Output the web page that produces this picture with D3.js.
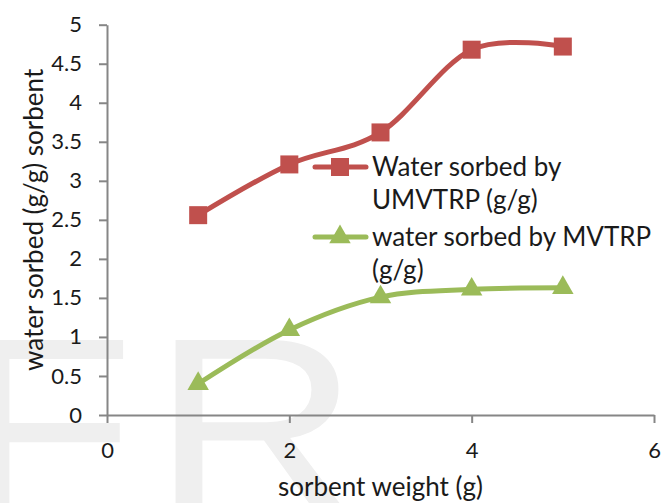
<!DOCTYPE html>
<html>
<head>
<meta charset="utf-8">
<script src="https://cdn.jsdelivr.net/npm/d3@7/dist/d3.min.js"></script>
<style>
  html, body { margin: 0; padding: 0; background: #ffffff; }
  svg { display: block; }
</style>
</head>
<body>
<svg id="chart" width="665" height="503"></svg>
<script>
// Sorbent weight (g) and water uptake (g/g) for the two sorbents
const sorbentWeight = [1, 2, 3, 4, 5];
const umvtrpSorbed = [2.56, 3.21, 3.62, 4.68, 4.72];
const mvtrpSorbed = [0.40, 1.09, 1.51, 1.61, 1.63];

const seriesNames = ["Water sorbed by UMVTRP (g/g)", "water sorbed by MVTRP (g/g)"];
const legendLines = [["Water sorbed by", "UMVTRP (g/g)"], ["water sorbed by MVTRP", "(g/g)"]];

const xTicks = [0, 2, 4, 6];
const yTicks = [0, 0.5, 1, 1.5, 2, 2.5, 3, 3.5, 4, 4.5, 5];
const xTitle = "sorbent weight (g)";
const yTitle = "water sorbed (g/g) sorbent";
const watermark = ["F", "R"];

const RED = "#c0504d";
const GREEN = "#9bbb59";
const AXIS = "#868686";
const INK = "#1a1a1a";
const FONT = "Lato, 'Open Sans', 'Liberation Sans', sans-serif";

const svg = d3.select("#chart");

const plot = { left: 107, right: 654, top: 24.7, bottom: 415 };
const x = d3.scaleLinear().domain([0, 6]).range([plot.left, plot.right]);
const y = d3.scaleLinear().domain([0, 5]).range([plot.bottom, plot.top]);

// Large faint letters behind the plot
const wm = svg.append("g").attr("fill", "#efefef")
  .style("font-family", "'Liberation Sans', Arial, sans-serif")
  .style("font-size", "250px");
wm.append("text").attr("transform", "translate(-41,512) scale(1.15,1)").text(watermark[0]);
wm.append("text").attr("transform", "translate(152,512) scale(1.15,1)").text(watermark[1]);

// Axes
const yAxis = d3.axisLeft(y).tickValues(yTicks).tickSize(8).tickSizeOuter(0)
  .tickPadding(17).tickFormat(d => String(d));
const xAxis = d3.axisBottom(x).tickValues(xTicks).tickSize(8).tickSizeOuter(0)
  .tickPadding(19).tickFormat(d => String(d));

const gy = svg.append("g").attr("transform", `translate(${plot.left},0)`).call(yAxis);
const gx = svg.append("g").attr("transform", `translate(0,${plot.bottom})`).call(xAxis);

[gx, gy].forEach(g => {
  g.select(".domain").attr("stroke", AXIS).attr("stroke-width", 2);
  g.selectAll(".tick line").attr("stroke", AXIS).attr("stroke-width", 2);
  g.selectAll(".tick text").attr("fill", INK)
    .style("font-family", FONT).style("font-size", "22px");
});

// Axis titles
svg.append("text")
  .attr("x", (plot.left + plot.right) / 2).attr("y", 496)
  .attr("text-anchor", "middle")
  .style("font-family", FONT).style("font-size", "26px").attr("fill", INK)
  .text(xTitle);

svg.append("text")
  .attr("transform", `translate(43,${(plot.top + plot.bottom) / 2}) rotate(-90)`)
  .attr("text-anchor", "middle")
  .style("font-family", FONT).style("font-size", "26px").attr("fill", INK)
  .text(yTitle);

// Smoothed series lines and markers
const line = d3.line()
  .x(d => x(d[0])).y(d => y(d[1]))
  .curve(d3.curveCatmullRom.alpha(0));

const redData = sorbentWeight.map((w, i) => [w, umvtrpSorbed[i]]);
const greenData = sorbentWeight.map((w, i) => [w, mvtrpSorbed[i]]);

const square = d3.symbol().type(d3.symbolSquare).size(18 * 18);
const triangle = d3.symbol().type(d3.symbolTriangle).size(200);

svg.append("path").datum(redData).attr("d", line)
  .attr("fill", "none").attr("stroke", RED).attr("stroke-width", 5)
  .attr("stroke-linejoin", "round").attr("stroke-linecap", "round");
svg.append("g").selectAll("path").data(redData).join("path")
  .attr("transform", d => `translate(${x(d[0])},${y(d[1])})`)
  .attr("d", square).attr("fill", RED);

svg.append("path").datum(greenData).attr("d", line)
  .attr("fill", "none").attr("stroke", GREEN).attr("stroke-width", 5)
  .attr("stroke-linejoin", "round").attr("stroke-linecap", "round");
svg.append("g").selectAll("path").data(greenData).join("path")
  .attr("transform", d => `translate(${x(d[0])},${y(d[1])})`)
  .attr("d", triangle).attr("fill", GREEN);

// Legend
const legend = svg.append("g");
const legendItems = [
  { color: RED, marker: square, y: 167, lines: legendLines[0], name: seriesNames[0] },
  { color: GREEN, marker: triangle, y: 237, lines: legendLines[1], name: seriesNames[1] }
];
legendItems.forEach(item => {
  const g = legend.append("g").attr("class", "legend-item").attr("data-name", item.name);
  g.append("line").attr("x1", 315).attr("x2", 366).attr("y1", item.y).attr("y2", item.y)
    .attr("stroke", item.color).attr("stroke-width", 5).attr("stroke-linecap", "round");
  g.append("path").attr("transform", `translate(340,${item.y})`)
    .attr("d", item.marker).attr("fill", item.color);
  const t = g.append("text").attr("x", 372).attr("y", item.y + 9)
    .style("font-family", FONT).style("font-size", "26px").attr("fill", INK);
  item.lines.forEach((s, i) => {
    t.append("tspan").attr("x", 372).attr("dy", i === 0 ? 0 : 33).text(s);
  });
});
</script>
</body>
</html>
